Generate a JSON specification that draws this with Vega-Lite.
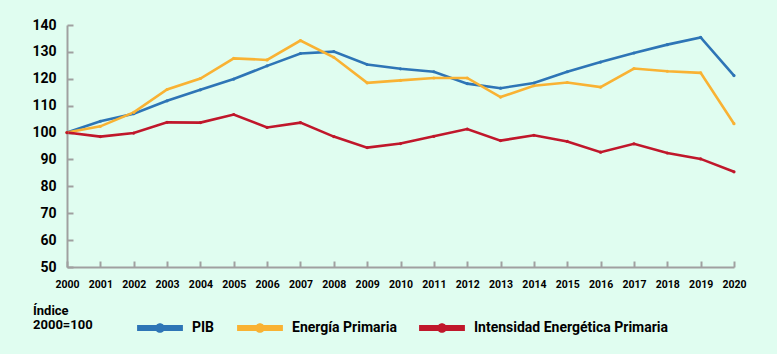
{
  "$schema": "https://vega.github.io/schema/vega-lite/v6.json",
  "width": 667,
  "height": 242,
  "autosize": {"type": "none"},
  "padding": {"left": 67, "top": 25, "right": 43, "bottom": 87},
  "background": "#e0fdf0",
  "config": {
    "view": {"stroke": null},
    "font": "Roboto"
  },
  "data": {
    "values": [
      {"year": 2000, "series": "PIB", "value": 100},
      {"year": 2001, "series": "PIB", "value": 104.2},
      {"year": 2002, "series": "PIB", "value": 107.0},
      {"year": 2003, "series": "PIB", "value": 111.8},
      {"year": 2004, "series": "PIB", "value": 115.9},
      {"year": 2005, "series": "PIB", "value": 119.9},
      {"year": 2006, "series": "PIB", "value": 124.8},
      {"year": 2007, "series": "PIB", "value": 129.4},
      {"year": 2008, "series": "PIB", "value": 130.1},
      {"year": 2009, "series": "PIB", "value": 125.3},
      {"year": 2010, "series": "PIB", "value": 123.7},
      {"year": 2011, "series": "PIB", "value": 122.6},
      {"year": 2012, "series": "PIB", "value": 118.2},
      {"year": 2013, "series": "PIB", "value": 116.5},
      {"year": 2014, "series": "PIB", "value": 118.4},
      {"year": 2015, "series": "PIB", "value": 122.6},
      {"year": 2016, "series": "PIB", "value": 126.2},
      {"year": 2017, "series": "PIB", "value": 129.6},
      {"year": 2018, "series": "PIB", "value": 132.7},
      {"year": 2019, "series": "PIB", "value": 135.4},
      {"year": 2020, "series": "PIB", "value": 121.2},
      {"year": 2000, "series": "Energía Primaria", "value": 100},
      {"year": 2001, "series": "Energía Primaria", "value": 102.3},
      {"year": 2002, "series": "Energía Primaria", "value": 107.5},
      {"year": 2003, "series": "Energía Primaria", "value": 116.0},
      {"year": 2004, "series": "Energía Primaria", "value": 120.1},
      {"year": 2005, "series": "Energía Primaria", "value": 127.6},
      {"year": 2006, "series": "Energía Primaria", "value": 127.0},
      {"year": 2007, "series": "Energía Primaria", "value": 134.2},
      {"year": 2008, "series": "Energía Primaria", "value": 128.0},
      {"year": 2009, "series": "Energía Primaria", "value": 118.5},
      {"year": 2010, "series": "Energía Primaria", "value": 119.4},
      {"year": 2011, "series": "Energía Primaria", "value": 120.3},
      {"year": 2012, "series": "Energía Primaria", "value": 120.3},
      {"year": 2013, "series": "Energía Primaria", "value": 113.2},
      {"year": 2014, "series": "Energía Primaria", "value": 117.4},
      {"year": 2015, "series": "Energía Primaria", "value": 118.6},
      {"year": 2016, "series": "Energía Primaria", "value": 116.9},
      {"year": 2017, "series": "Energía Primaria", "value": 123.8},
      {"year": 2018, "series": "Energía Primaria", "value": 122.8},
      {"year": 2019, "series": "Energía Primaria", "value": 122.2},
      {"year": 2020, "series": "Energía Primaria", "value": 103.3},
      {"year": 2000, "series": "Intensidad Energética Primaria", "value": 100},
      {"year": 2001, "series": "Intensidad Energética Primaria", "value": 98.5},
      {"year": 2002, "series": "Intensidad Energética Primaria", "value": 99.8},
      {"year": 2003, "series": "Intensidad Energética Primaria", "value": 103.8},
      {"year": 2004, "series": "Intensidad Energética Primaria", "value": 103.7},
      {"year": 2005, "series": "Intensidad Energética Primaria", "value": 106.7},
      {"year": 2006, "series": "Intensidad Energética Primaria", "value": 101.9},
      {"year": 2007, "series": "Intensidad Energética Primaria", "value": 103.7},
      {"year": 2008, "series": "Intensidad Energética Primaria", "value": 98.5},
      {"year": 2009, "series": "Intensidad Energética Primaria", "value": 94.4},
      {"year": 2010, "series": "Intensidad Energética Primaria", "value": 95.9},
      {"year": 2011, "series": "Intensidad Energética Primaria", "value": 98.6},
      {"year": 2012, "series": "Intensidad Energética Primaria", "value": 101.3},
      {"year": 2013, "series": "Intensidad Energética Primaria", "value": 97.0},
      {"year": 2014, "series": "Intensidad Energética Primaria", "value": 99.0},
      {"year": 2015, "series": "Intensidad Energética Primaria", "value": 96.7},
      {"year": 2016, "series": "Intensidad Energética Primaria", "value": 92.7},
      {"year": 2017, "series": "Intensidad Energética Primaria", "value": 95.8},
      {"year": 2018, "series": "Intensidad Energética Primaria", "value": 92.4},
      {"year": 2019, "series": "Intensidad Energética Primaria", "value": 90.2},
      {"year": 2020, "series": "Intensidad Energética Primaria", "value": 85.4}
    ]
  },
  "encoding": {
    "x": {
      "field": "year",
      "type": "quantitative",
      "scale": {"domain": [2000, 2020], "nice": false, "zero": false},
      "axis": {
        "title": null,
        "values": [2000,2001,2002,2003,2004,2005,2006,2007,2008,2009,2010,2011,2012,2013,2014,2015,2016,2017,2018,2019,2020],
        "format": "d",
        "grid": false,
        "domainColor": "#a0a0a0",
        "domainWidth": 2,
        "tickColor": "#a0a0a0",
        "tickWidth": 2,
        "tickSize": -6,
        "labelPadding": 18,
        "labelFont": "Roboto",
        "labelFontSize": 10.5,
        "labelFontWeight": "bold",
        "labelColor": "#000000",
        "labelFlush": false,
        "labelOverlap": false
      }
    },
    "y": {
      "field": "value",
      "type": "quantitative",
      "scale": {"domain": [50, 140], "nice": false, "zero": false},
      "axis": {
        "title": null,
        "values": [50,60,70,80,90,100,110,120,130,140],
        "grid": false,
        "domainColor": "#a0a0a0",
        "domainWidth": 2,
        "tickColor": "#a0a0a0",
        "tickWidth": 2,
        "tickSize": -6,
        "labelPadding": 17,
        "labelFont": "Roboto",
        "labelFontSize": 14,
        "labelFontWeight": "bold",
        "labelColor": "#000000"
      }
    },
    "color": {
      "field": "series",
      "type": "nominal",
      "scale": {
        "domain": ["PIB", "Energía Primaria", "Intensidad Energética Primaria"],
        "range": ["#2e75b6", "#f9b233", "#c0172b"]
      },
      "legend": {
        "orient": "none",
        "direction": "horizontal",
        "legendX": -34,
        "legendY": 280,
        "padding": 0,
        "title": ["Índice", "2000=100"],
        "titleOrient": "left",
        "titleAnchor": "start",
        "titleFont": "Roboto",
        "titleFontSize": 13,
        "titleFontWeight": "bold",
        "titleColor": "#000000",
        "titleLineHeight": 14,
        "titlePadding": 44,
        "symbolType": "M-1,-0.13 L1,-0.13 L1,0.13 L-1,0.13 Z M0.21,0 A0.21,0.21 0 1,1 -0.21,0 A0.21,0.21 0 1,1 0.21,0 Z",
        "symbolSize": 2100,
        "symbolStrokeWidth": 0,
        "labelFont": "Roboto",
        "labelFontSize": 14,
        "labelFontWeight": "bold",
        "labelColor": "#000000",
        "labelLimit": 400,
        "labelOffset": 9,
        "columnPadding": 22,
        "encode": {
          "symbols": {
            "update": {
              "fill": {"scale": "color", "field": "value"},
              "stroke": {"value": "transparent"},
              "opacity": {"value": 1}
            }
          }
        }
      }
    }
  },
  "layer": [
    {"mark": {"type": "line", "strokeWidth": 2.6}},
    {"mark": {"type": "point", "filled": true, "size": 10, "opacity": 1}}
  ]
}
